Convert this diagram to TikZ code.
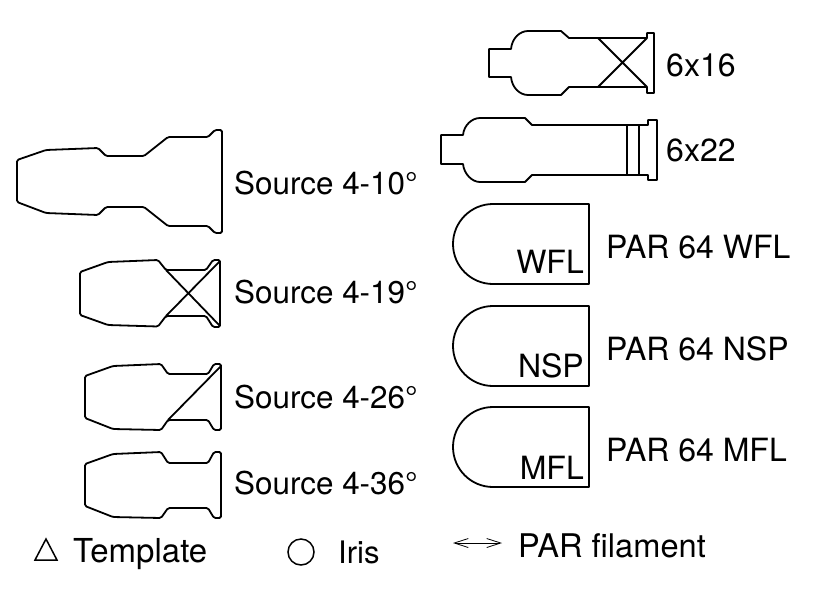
\documentclass[tikz,border=0pt]{standalone}
\usepackage{fontspec}
\setmainfont{TeX Gyre Heros}
\usetikzlibrary{arrows.meta}
\tikzset{
  lamp/.style={draw=black,line width=1.8pt,line join=round},
  lab/.style={anchor=base west,inner sep=0pt,font=\fontsize{32}{38}\selectfont},
  srclab/.style={anchor=base west,inner sep=0pt,font=\fontsize{31.4}{38}\selectfont},
  inlab/.style={anchor=base east,inner sep=0pt,font=\fontsize{32}{38}\selectfont},
}
\begin{document}
\begin{tikzpicture}[x=1pt,y=-1pt]
\useasboundingbox (0,0) rectangle (821,614);
% Source 4-10
\draw[lamp,rounded corners=1.5pt] (17,160)--(46,150)--(98,148)--(106,156)--(144,156)--(168,137)--(208,137)--(215,130)--(222,130)--(222,233)--(215,233)--(208,226)--(168,226)--(144,207)--(106,207)--(98,215)--(46,213)--(17,202)--cycle;
% Source 4-19
\draw[lamp,rounded corners=1.5pt] (80,272)--(108,262)--(158,260)--(166,270)--(206,270)--(213,260)--(220,260)--(220,327)--(213,327)--(206,316)--(166,316)--(158,326.5)--(108,325)--(80,315)--cycle;
\draw[lamp] (166,270)--(220,326) (166,316)--(220,261);
% Source 4-26
\draw[lamp,rounded corners=1.5pt] (85,376)--(113,366)--(161,364)--(168,374)--(208,374)--(214,364)--(221,364)--(221,430)--(214,430)--(208,420)--(168,420)--(161,430)--(113,429)--(85,418)--cycle;
\draw[lamp] (168,420)--(221,366);
% Source 4-36
\draw[lamp,rounded corners=1.5pt] (85,464)--(113,454)--(161,452)--(168,463)--(208,463)--(214,452)--(221,452)--(221,518)--(214,518)--(208,508)--(168,508)--(161,518)--(113,517)--(85,506)--cycle;
% 6x16
\draw[lamp] (489,49)--(511,49) .. controls (512,38) and (520,31) .. (528,31)--(561,31)--(569,38)--(647,38)--(647,33)--(654,33)--(654,93)--(647,93)--(647,87)--(569,87)--(561,95)--(528,95) .. controls (520,95) and (512,88) .. (511,77)--(489,77)--cycle;
\draw[lamp] (598,38)--(647,87) (598,87)--(647,38);
% 6x22
\draw[lamp] (441,135)--(463,135) .. controls (464,125) and (472,118) .. (480,118)--(525,118)--(532,125)--(648,125)--(648,120)--(657,120)--(657,180)--(648,180)--(648,175)--(532,175)--(525,182)--(480,182) .. controls (472,182) and (464,174) .. (463,164)--(441,164)--cycle;
\draw[lamp] (627,125)--(627,175) (639,125)--(639,175);
% PAR 64
\draw[lamp] (589,204)--(493,204) arc[start angle=270,end angle=90,radius=40]--(589,284)--cycle;
\draw[lamp] (589,306)--(493,306) arc[start angle=270,end angle=90,radius=40]--(589,386)--cycle;
\draw[lamp] (589,407)--(493,407) arc[start angle=270,end angle=90,radius=40]--(589,487)--cycle;
\node[inlab] (wfl) at (584,273) {WFL};
\node[inlab] (nsp) at (584,377) {NSP};
\node[inlab] (mfl) at (584,479) {MFL};
% labels
\node[srclab] (s10) at (234,194) {Source 4-10°};
\node[srclab] (s19) at (234,303) {Source 4-19°};
\node[srclab] (s26) at (234,408) {Source 4-26°};
\node[srclab] (s36) at (234,494) {Source 4-36°};
\node[lab] (l16) at (666,76) {6x16};
\node[lab] (l22) at (666,161) {6x22};
\node[lab] (lw) at (606,258) {PAR 64 WFL};
\node[lab] (ln) at (606,360) {PAR 64 NSP};
\node[lab] (lm) at (606,461) {PAR 64 MFL};
% legend
\draw[line width=1.5pt,line join=miter] (35,560)--(57,560)--(46,539)--cycle;
\node[lab,font=\fontsize{33}{38}\selectfont] (tpl) at (73,562.5) {Template};
\draw[line width=1.5pt] (301,552) circle[radius=13];
\node[lab,font=\fontsize{31}{38}\selectfont] (iris) at (338,563.5) {Iris};
\coordinate (fa) at (453,543);
\coordinate (fb) at (502,543);
\draw[line width=0.8pt,{Straight Barb[length=14pt,width=9pt,line width=0.8pt]}-{Straight Barb[length=14pt,width=9pt,line width=0.8pt]}] (fa)--(fb);
\node[lab,font=\fontsize{32.6}{38}\selectfont] (fil) at (518,557) {PAR filament};
\end{tikzpicture}
\end{document}
